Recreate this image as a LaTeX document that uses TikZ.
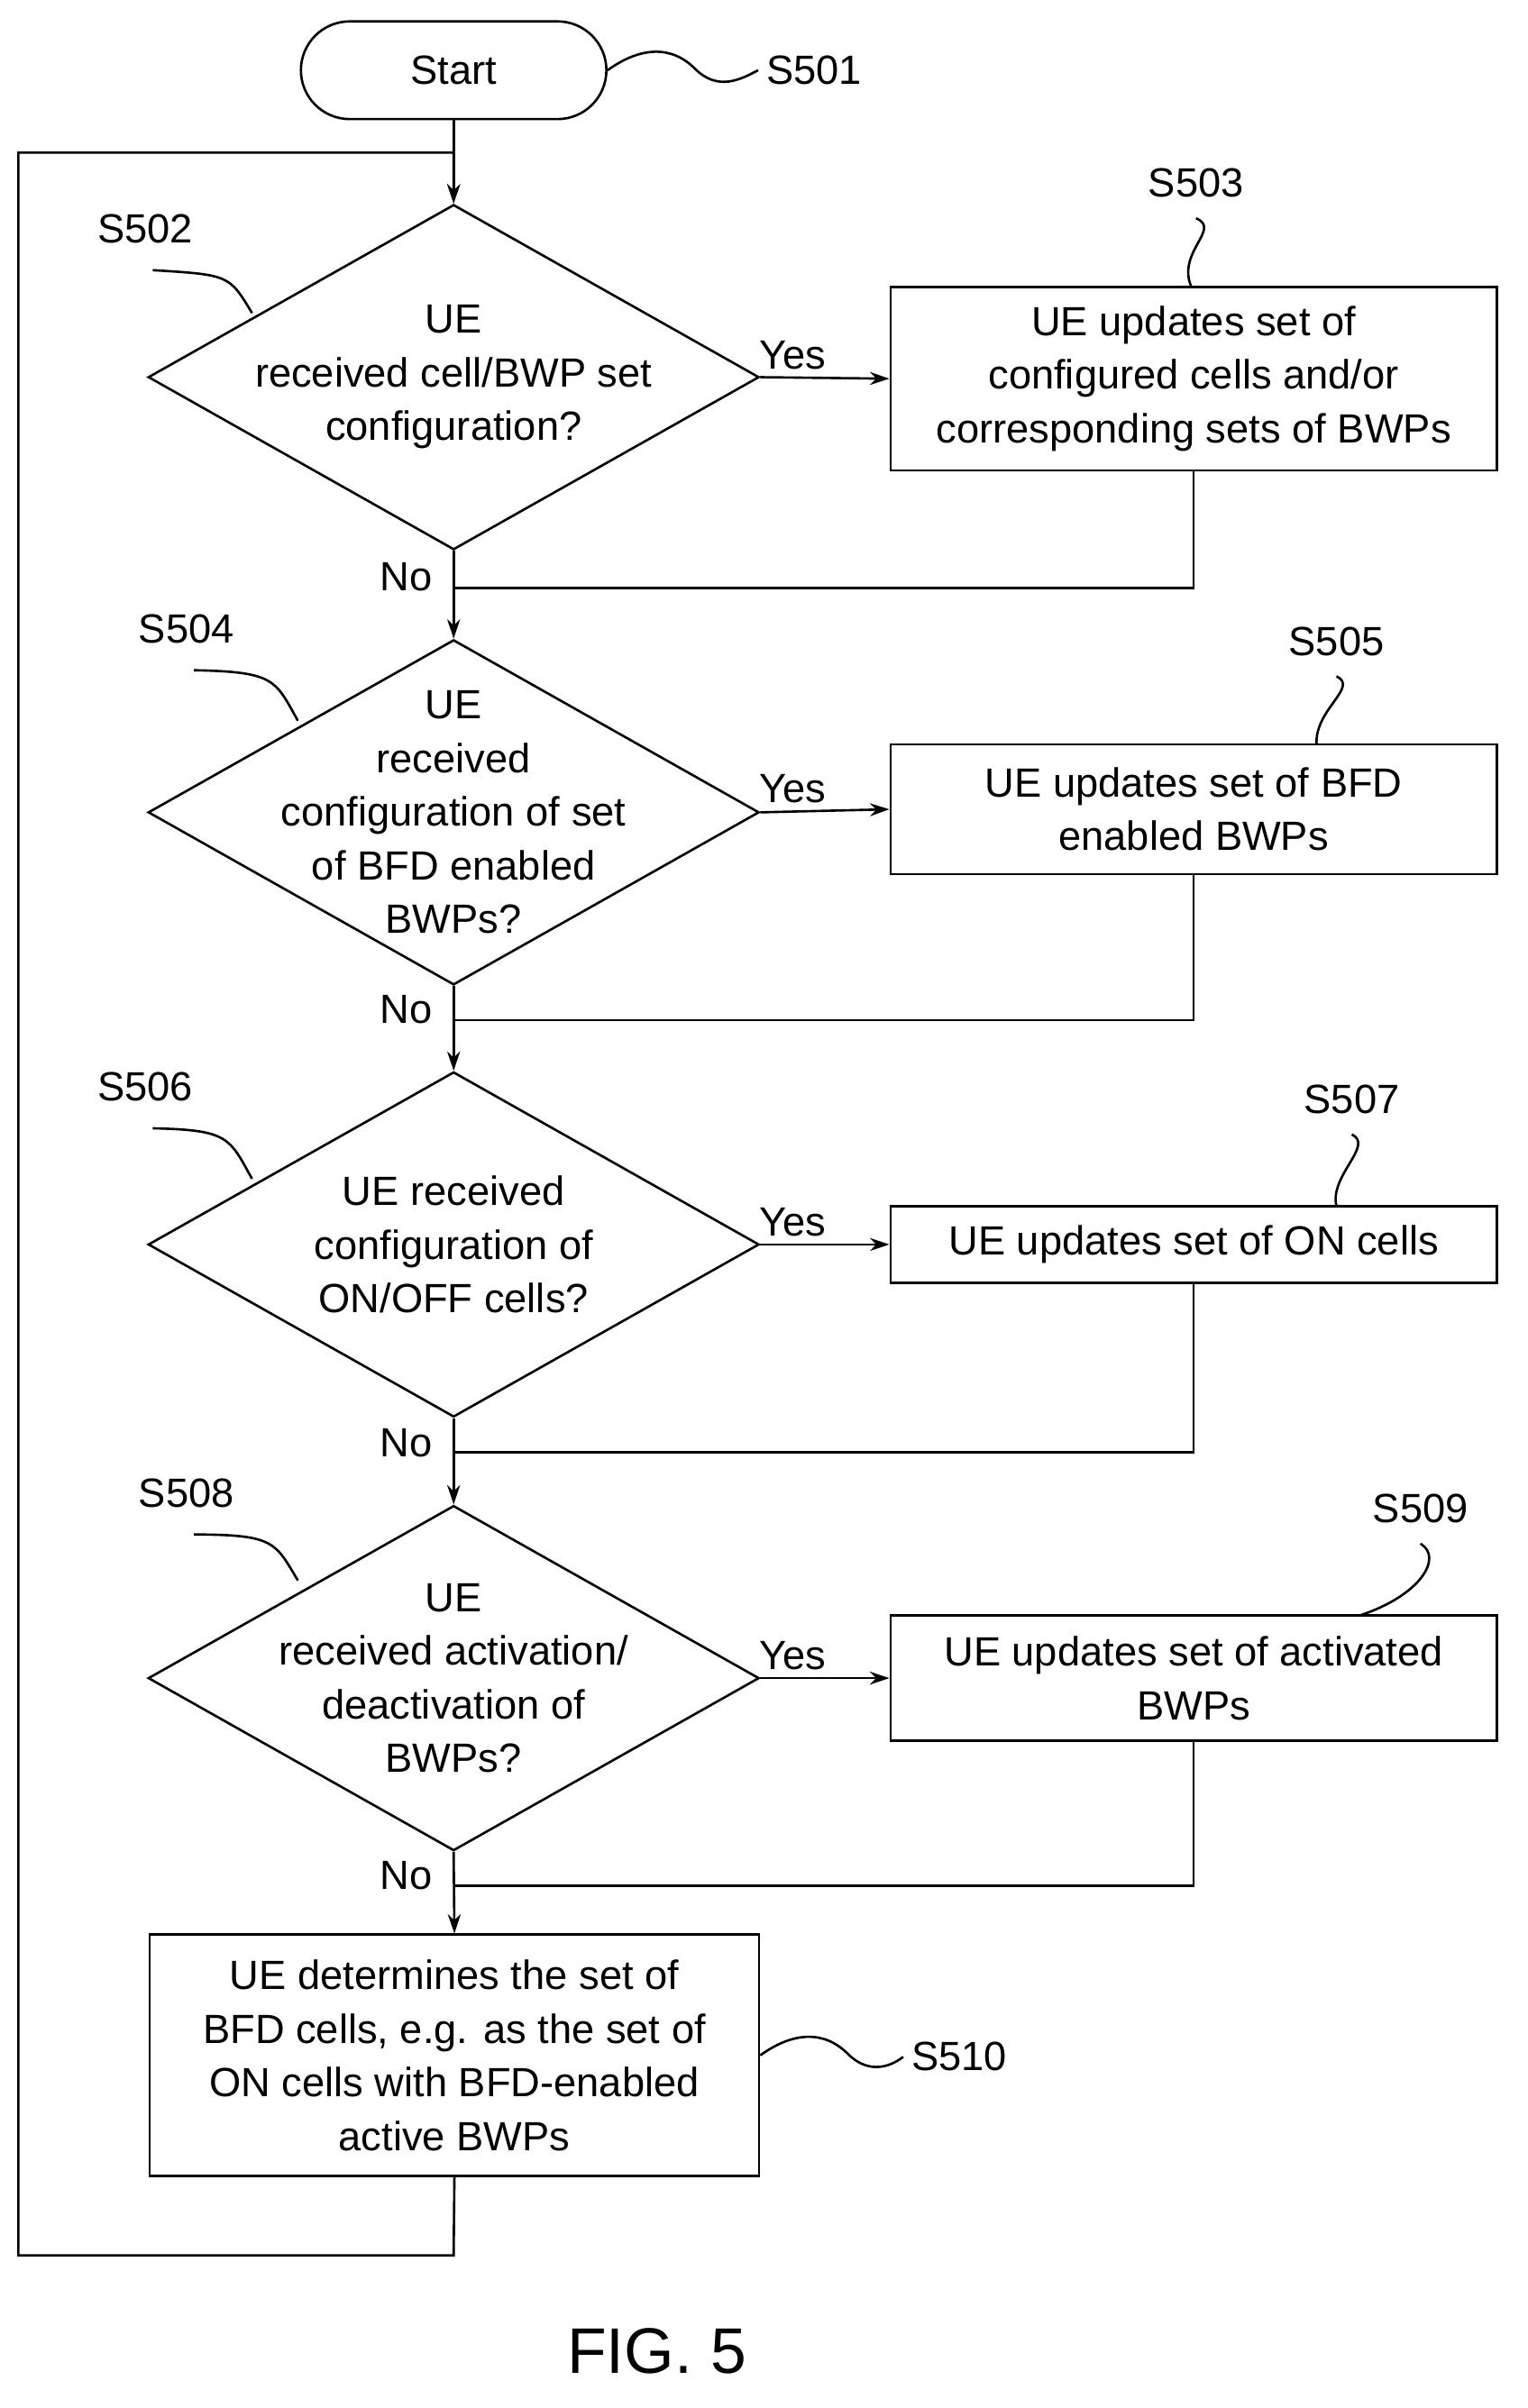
\documentclass[tikz,border=0pt]{standalone}
\usepackage{fontspec}
\setmainfont{Liberation Sans}
\usetikzlibrary{shapes.geometric,arrows.meta}
\begin{document}
\begin{tikzpicture}[x=0.025cm,y=-0.025cm,line width=1.1pt,
  every node/.style={font=\fontsize{19}{25}\selectfont},
  dia/.style={draw,diamond,minimum width=400*0.025cm,minimum height=226*0.025cm,inner sep=0pt},
  box/.style={draw,rectangle,minimum width=397*0.025cm,align=center,inner sep=2pt},
  arr/.style={-{Stealth[length=9pt,width=6pt]}},
  lbl/.style={font=\fontsize{19}{25}\selectfont}]
\useasboundingbox (0,0) rectangle (1000,1577);
\node[draw,rounded corners=32*0.025cm,minimum width=200*0.025cm,minimum height=64*0.025cm] (start) at (297,46) {Start};
\node[dia] (d1) at (297,247) {};
\node[dia] (d2) at (297,532) {};
\node[dia] (d3) at (297,815) {};
\node[dia] (d4) at (297,1099) {};
\node[align=center] (t1) at (d1) {UE\\received cell/BWP set\\configuration?};
\node[align=center] (t2) at (d2) {UE\\received\\configuration of set\\of BFD enabled\\BWPs?};
\node[align=center] (t3) at (d3) {UE received\\configuration of\\ON/OFF cells?};
\node[align=center] (t4) at (d4) {UE\\received activation/\\deactivation of\\BWPs?};
\node[box,minimum height=120*0.025cm] (b3) at (781.5,248) {UE updates set of\\configured cells and/or\\corresponding sets of BWPs};
\node[box,minimum height=85*0.025cm] (b5) at (781.5,530) {UE updates set of BFD\\enabled BWPs};
\node[box,minimum height=50*0.025cm] (b7) at (781.5,815) {UE updates set of ON cells};
\node[box,minimum height=82*0.025cm] (b9) at (781.5,1099) {UE updates set of activated\\BWPs};
\node[draw,minimum width=399*0.025cm,minimum height=158*0.025cm,align=center] (b10) at (297.5,1346) {UE determines the set of\\BFD cells, e.g. as the set of\\ON cells with BFD-enabled\\active BWPs};
% labels
\node[lbl] (l501) at (533,46) {S501};
\node[lbl] (l502) at (95,150) {S502};
\node[lbl] (l503) at (783,120) {S503};
\node[lbl] (l504) at (122,412) {S504};
\node[lbl] (l505) at (875,420) {S505};
\node[lbl] (l506) at (95,712) {S506};
\node[lbl] (l507) at (885,720) {S507};
\node[lbl] (l508) at (122,978) {S508};
\node[lbl] (l509) at (930,988) {S509};
\node[lbl] (l510) at (628,1347) {S510};
\node[font=\fontsize{30}{36}\selectfont] (fig) at (430,1540) {FIG. 5};
% squiggles
\draw (start.east) .. controls (420,30) and (440,30) .. (455,45) .. controls (470,60) and (485,52) .. (l501.west);
\draw (l502.south) ++(5,12) coordinate (q2) .. controls (150,180) and (150,180) .. (165,205);
\draw (l503.south) ++(0,8) coordinate (q3) .. controls (800,150) and (770,165) .. (780,188);
\draw (l504.south) ++(5,12) coordinate (q4) .. controls (180,440) and (180,445) .. (195,472);
\draw (l505.south) ++(0,8) coordinate (q5) .. controls (890,450) and (860,465) .. (862,488);
\draw (l506.south) ++(5,12) coordinate (q6) .. controls (150,740) and (150,745) .. (165,772);
\draw (l507.south) ++(0,8) coordinate (q7) .. controls (900,750) and (870,770) .. (875,790);
\draw (l508.south) ++(5,12) coordinate (q8) .. controls (180,1005) and (180,1010) .. (195,1035);
\draw (l509.south) ++(0,8) coordinate (q9) .. controls (945,1020) and (930,1045) .. (890,1058);
\draw (b10.east) .. controls (520,1330) and (540,1330) .. (555,1345) .. controls (570,1360) and (585,1352) .. (l510.west);
% flow
\draw[arr] (start.south) -- (d1.north);
\draw[arr] (d1.east) -- node[above,pos=0.25] {Yes} (b3.west);
\draw[arr] (d2.east) -- node[above,pos=0.25] {Yes} (b5.west);
\draw[arr] (d3.east) -- node[above,pos=0.25] {Yes} (b7.west);
\draw[arr] (d4.east) -- node[above,pos=0.25] {Yes} (b9.west);
\draw[arr] (d1.south) -- (d2.north);
\draw[arr] (d2.south) -- (d3.north);
\draw[arr] (d3.south) -- (d4.north);
\draw[arr] (d4.south) -- (b10.north);
\node at (266,378) {No}; \node at (266,661) {No}; \node at (266,945) {No}; \node at (266,1228) {No};
\draw (b3.south) |- (297,385);
\draw (b5.south) |- (297,668);
\draw (b7.south) |- (297,951);
\draw (b9.south) |- (297,1235);
\draw[arr] (b10.south) -- (297,1477) -- (12,1477) -- (12,100) -- (297,100) -- (d1.north);
\end{tikzpicture}
\end{document}
